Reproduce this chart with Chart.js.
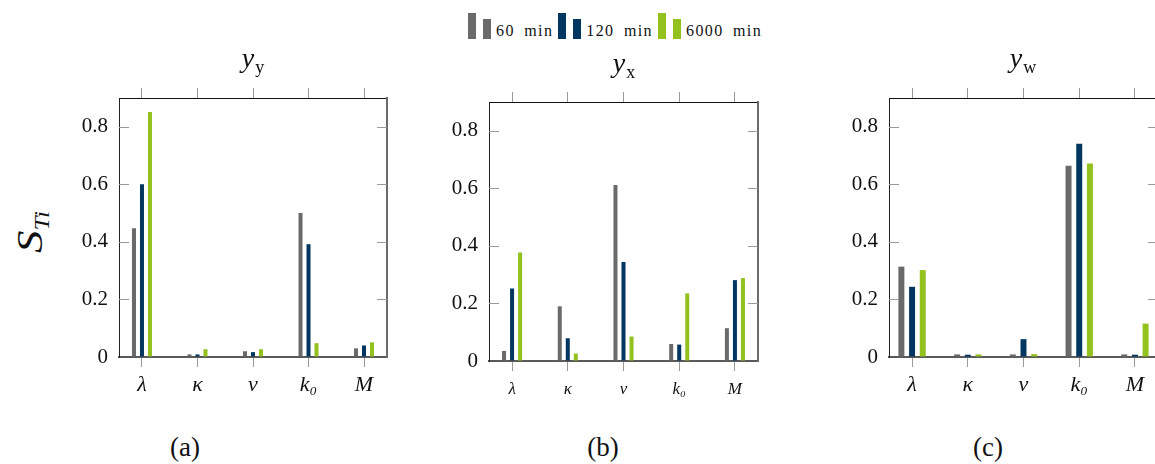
<!DOCTYPE html>
<html>
<head>
<meta charset="utf-8">
<script src="https://cdn.jsdelivr.net/npm/chart.js@4.4.1/dist/chart.umd.min.js"></script>
<style>
  html, body { margin: 0; padding: 0; background: #fff; }
  body { width: 1155px; height: 464px; overflow: hidden; position: relative;
         font-family: "Liberation Serif", "DejaVu Serif", serif; color: #111; }
  canvas.panel { position: absolute; top: 0; }
  .title { position: absolute; transform: translateX(-50%); white-space: nowrap;
           font-size: 28px; font-style: italic; line-height: 1; }
  .title sub { font-style: normal; font-size: 18px; vertical-align: -6px; margin-left: 1px; }
  .caption { position: absolute; transform: translateX(-50%); font-size: 27px; line-height: 1; }
  .ylabel { position: absolute; left: 32px; top: 232px; white-space: nowrap;
            transform: translate(-50%, -50%) rotate(-90deg) scaleX(1.25); font-size: 36px; font-style: italic; line-height: 1; }
  .ylabel sub { font-size: 20px; vertical-align: -7px; }
  #legend { position: absolute; left: 468px; top: 12px; display: flex; align-items: flex-end; height: 27px; }
  .item { display: flex; align-items: flex-end; margin-right: 5px; }
  .swatch { width: 8px; margin-right: 7px; }
  .item span { font-size: 16px; line-height: 1; margin-left: -2px; letter-spacing: 1.4px; word-spacing: 4px; }
</style>
</head>
<body>
<div id="legend"></div>
<div class="ylabel">S<sub>Ti</sub></div>

<canvas class="panel" id="panelA" width="400" height="420" style="left:0px"></canvas>
<canvas class="panel" id="panelB" width="380" height="420" style="left:400px"></canvas>
<canvas class="panel" id="panelC" width="400" height="420" style="left:780px"></canvas>

<div class="title" style="left:253px; top:44px">y<sub>y</sub></div>
<div class="title" style="left:624px; top:49px">y<sub>x</sub></div>
<div class="title" style="left:1023px; top:44px">y<sub>w</sub></div>

<div class="caption" style="left:185px; top:434px">(a)</div>
<div class="caption" style="left:603px; top:434px">(b)</div>
<div class="caption" style="left:988px; top:434px">(c)</div>

<script>
// Model parameters along the x axis and the three simulation horizons
const parameters = ['λ', 'κ', 'ν', 'k₀', 'M'];
const seriesNames = ['60 min', '120 min', '6000 min'];
const seriesColors = ['#6a6a6a', '#00365f', '#93c11d'];
const yTickValues = [0, 0.2, 0.4, 0.6, 0.8];
const yMax = 0.9;

// Total-order Sobol indices S_Ti for output y_y
const yy60   = [0.447, 0.009, 0.020, 0.500, 0.030];
const yy120  = [0.600, 0.009, 0.017, 0.392, 0.040];
const yy6000 = [0.851, 0.027, 0.027, 0.048, 0.051];

// Output y_x
const yx60   = [0.035, 0.190, 0.612, 0.059, 0.114];
const yx120  = [0.252, 0.079, 0.344, 0.057, 0.281];
const yx6000 = [0.377, 0.026, 0.085, 0.235, 0.288];

// Output y_w
const yw60   = [0.314, 0.009, 0.009, 0.665, 0.009];
const yw120  = [0.244, 0.008, 0.062, 0.741, 0.008];
const yw6000 = [0.302, 0.009, 0.010, 0.672, 0.116];

const serif = '"Liberation Serif", serif';

// Legend: two bar glyphs plus the horizon name
const legend = document.getElementById('legend');
seriesNames.forEach((name, k) => {
  const item = document.createElement('div');
  item.className = 'item';
  [26, 20].forEach(h => {
    const s = document.createElement('div');
    s.className = 'swatch';
    s.style.height = h + 'px';
    s.style.background = seriesColors[k];
    item.appendChild(s);
  });
  const t = document.createElement('span');
  t.textContent = name;
  item.appendChild(t);
  legend.appendChild(item);
});

// Short tick marks pointing into the plot from the left and right frame
const innerTicks = {
  id: 'innerTicks',
  afterDraw(chart) {
    const { ctx, chartArea: a } = chart;
    const y = chart.scales.y;
    ctx.save();
    ctx.strokeStyle = '#9a9a9a';
    ctx.lineWidth = 1;
    y.ticks.forEach(t => {
      if (t.value === 0) return;
      const py = Math.round(y.getPixelForValue(t.value)) + 0.5;
      ctx.beginPath();
      ctx.moveTo(a.left, py); ctx.lineTo(a.left + 10, py);
      ctx.moveTo(a.right - 10, py); ctx.lineTo(a.right, py);
      ctx.stroke();
    });
    ctx.restore();
  }
};

const pad = 0.414;
function categoryTicks(scale) { scale.ticks = parameters.map((_, i) => ({ value: i })); }

function makePanel(id, series, o) {
  const xCommon = {
    type: 'linear', min: -pad, max: parameters.length - 1 + pad,
    offset: false, afterBuildTicks: categoryTicks,
    grid: { offset: false, drawOnChartArea: false, drawTicks: true, tickLength: 10, color: '#9a9a9a', lineWidth: 1 }
  };
  new Chart(document.getElementById(id), {
    type: 'bar',
    data: {
      datasets: series.map((vals, k) => ({
        label: seriesNames[k],
        data: vals.map((v, i) => ({ x: i, y: v })),
        backgroundColor: seriesColors[k],
        borderWidth: 0,
        categoryPercentage: o.cat,
        barPercentage: o.bar
      }))
    },
    options: {
      responsive: false, animation: false, devicePixelRatio: 1,
      layout: { padding: 0 },
      plugins: { legend: { display: false }, tooltip: { enabled: false } },
      scales: {
        x: Object.assign({}, xCommon, {
          position: 'bottom',
          ticks: { callback: v => parameters[v], color: '#111', padding: o.xPad, maxRotation: 0, autoSkip: false,
                   font: { family: serif, size: o.xFont, style: 'italic' } },
          border: { color: '#5a5a5a', width: 2 },
          afterFit: s => { s.height = o.bottom; }
        }),
        xTop: Object.assign({}, xCommon, {
          position: 'top',
          ticks: { display: false },
          border: { color: '#111', width: 1 },
          afterFit: s => { s.height = o.top; }
        }),
        y: {
          min: 0, max: yMax, position: 'left',
          afterBuildTicks: s => { s.ticks = yTickValues.map(v => ({ value: v })); },
          ticks: { callback: v => (v === 0 ? '0' : v.toFixed(1)), color: '#111', padding: 11,
                   font: { family: serif, size: 21 } },
          grid: { drawOnChartArea: false, drawTicks: false },
          border: { color: '#222', width: 1 },
          afterFit: s => { s.width = o.left; }
        },
        yRight: {
          min: 0, max: yMax, position: 'right',
          ticks: { display: false },
          grid: { drawOnChartArea: false, drawTicks: false },
          border: { color: '#6a6a6a', width: 2 },
          afterFit: s => { s.width = o.right; }
        }
      }
    },
    plugins: [innerTicks]
  });
}

function drawAll() {
  Chart.defaults.font.family = serif;
  makePanel('panelA', [yy60, yy120, yy6000], { left: 119, right: 13, top: 98, bottom: 63, cat: 0.432, bar: 0.5, xFont: 22, xPad: 5 });
  makePanel('panelB', [yx60, yx120, yx6000], { left: 89, right: 22, top: 102, bottom: 59, cat: 0.432, bar: 0.5, xFont: 17, xPad: 8 });
  makePanel('panelC', [yw60, yw120, yw6000], { left: 109, right: 22, top: 98, bottom: 63, cat: 0.575, bar: 0.56, xFont: 22, xPad: 5 });
}

Promise.all([
  document.fonts.load('21px "Liberation Serif"'),
  document.fonts.load('italic 22px "Liberation Serif"')
]).then(drawAll, drawAll);
</script>
</body>
</html>
